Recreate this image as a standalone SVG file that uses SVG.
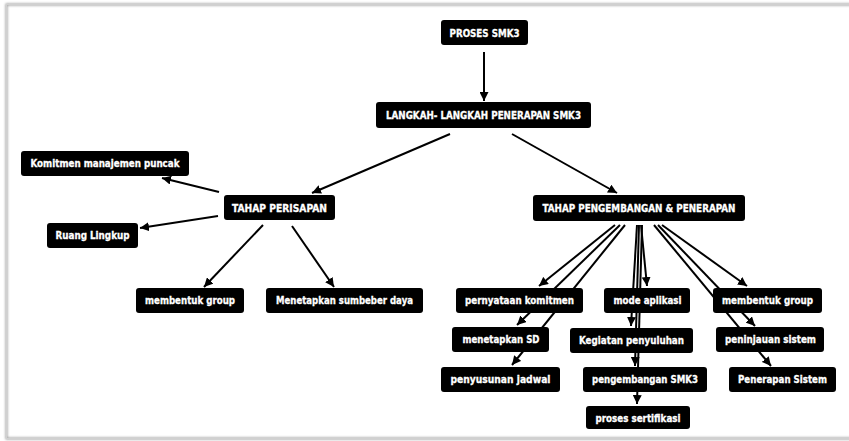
<svg xmlns="http://www.w3.org/2000/svg" width="849" height="441" viewBox="0 0 849 441">
  <defs>
    <marker id="arrow" markerUnits="userSpaceOnUse" markerWidth="10" markerHeight="9" refX="9" refY="4.5" orient="auto">
      <path d="M0,0 L9,4.5 L0,9 z" fill="#000"/>
    </marker>
    <filter id="frameShadow" x="-5%" y="-5%" width="110%" height="110%">
      <feGaussianBlur stdDeviation="1"/>
    </filter>
  </defs>
  <style>
    .box { fill: #000; }
    .lbl { fill: #fff; stroke: #fff; stroke-width: 0.3; font-family: "DejaVu Sans", Verdana, sans-serif; font-weight: bold; font-size: 9.6px; text-anchor: middle; }
    .cap { fill: #fff; stroke: #fff; stroke-width: 0.3; font-family: "DejaVu Sans Condensed", "DejaVu Sans", sans-serif; font-stretch: condensed; font-weight: bold; font-size: 11px; text-anchor: middle; }
    .conn line { stroke: #000; stroke-width: 2; marker-end: url(#arrow); }
  </style>

  <rect width="849" height="441" fill="#fff"/>
  <!-- page frame -->
  <rect x="6.5" y="4.5" width="850" height="434" fill="none" stroke="#9a9a9a" stroke-width="2" filter="url(#frameShadow)"/>
  <rect x="6.5" y="4.5" width="850" height="434" fill="none" stroke="#d0d0d0" stroke-width="1"/>

  <g id="connectors" class="conn">
    <line x1="484" y1="52" x2="484" y2="101"/>
    <line x1="450" y1="134" x2="312" y2="193"/>
    <line x1="512" y1="134" x2="617" y2="193"/>
    <line x1="219" y1="192" x2="162" y2="178"/>
    <line x1="218" y1="216" x2="140" y2="228"/>
    <line x1="263" y1="225" x2="204" y2="287"/>
    <line x1="292" y1="226" x2="334" y2="287"/>
    <line x1="615" y1="225" x2="539" y2="286"/>
    <line x1="620" y1="225" x2="517" y2="325"/>
    <line x1="625" y1="225" x2="512" y2="365"/>
    <line x1="641" y1="225" x2="647" y2="286"/>
    <line x1="637" y1="225" x2="631" y2="326"/>
    <line x1="639" y1="225" x2="635" y2="366"/>
    <line x1="642" y1="225" x2="637" y2="404"/>
    <line x1="662" y1="225" x2="747" y2="286"/>
    <line x1="658" y1="225" x2="755" y2="326"/>
    <line x1="654" y1="225" x2="771" y2="366"/>
  </g>

  <g id="proses-smk3">
    <rect class="box" x="441" y="20" width="87" height="25" rx="3"/>
    <text class="cap" x="484.5" y="36.5" textLength="70" lengthAdjust="spacingAndGlyphs">PROSES SMK3</text>
  </g>
  <g id="langkah-penerapan">
    <rect class="box" x="376" y="102" width="215" height="26" rx="3"/>
    <text class="cap" x="483.5" y="119" textLength="195" lengthAdjust="spacingAndGlyphs">LANGKAH- LANGKAH PENERAPAN SMK3</text>
  </g>
  <g id="tahap-persiapan">
    <rect class="box" x="224" y="195" width="111" height="25" rx="3"/>
    <text class="cap" x="279.5" y="211.5" textLength="95" lengthAdjust="spacingAndGlyphs">TAHAP PERISAPAN</text>
  </g>
  <g id="tahap-pengembangan">
    <rect class="box" x="533" y="195" width="212" height="26" rx="3"/>
    <text class="cap" x="639" y="212" textLength="193" lengthAdjust="spacingAndGlyphs">TAHAP PENGEMBANGAN &amp; PENERAPAN</text>
  </g>

  <g id="komitmen-manajemen">
    <rect class="box" x="21" y="151" width="168" height="25" rx="3"/>
    <text class="lbl" x="105" y="167" textLength="149" lengthAdjust="spacingAndGlyphs">Komitmen manajemen puncak</text>
  </g>
  <g id="ruang-lingkup">
    <rect class="box" x="47" y="223" width="91" height="25" rx="3"/>
    <text class="lbl" x="92.5" y="239" textLength="74" lengthAdjust="spacingAndGlyphs">Ruang Lingkup</text>
  </g>
  <g id="membentuk-group-1">
    <rect class="box" x="136" y="288" width="108" height="25" rx="3"/>
    <text class="lbl" x="190" y="304" textLength="90" lengthAdjust="spacingAndGlyphs">membentuk group</text>
  </g>
  <g id="menetapkan-sumber-daya">
    <rect class="box" x="266" y="288" width="157" height="25" rx="3"/>
    <text class="lbl" x="344.5" y="304" textLength="137" lengthAdjust="spacingAndGlyphs">Menetapkan sumbeber daya</text>
  </g>

  <g id="pernyataan-komitmen">
    <rect class="box" x="456" y="288" width="127" height="25" rx="3"/>
    <text class="lbl" x="519.5" y="304" textLength="109" lengthAdjust="spacingAndGlyphs">pernyataan komitmen</text>
  </g>
  <g id="mode-aplikasi">
    <rect class="box" x="604" y="288" width="86" height="25" rx="3"/>
    <text class="lbl" x="647.5" y="304" textLength="68" lengthAdjust="spacingAndGlyphs">mode aplikasi</text>
  </g>
  <g id="membentuk-group-2">
    <rect class="box" x="713" y="288" width="109" height="25" rx="3"/>
    <text class="lbl" x="767.5" y="304" textLength="91" lengthAdjust="spacingAndGlyphs">membentuk group</text>
  </g>

  <g id="menetapkan-sd">
    <rect class="box" x="452" y="327" width="97" height="25" rx="3"/>
    <text class="lbl" x="501" y="343" textLength="77" lengthAdjust="spacingAndGlyphs">menetapkan SD</text>
  </g>
  <g id="kegiatan-penyuluhan">
    <rect class="box" x="570" y="328" width="123" height="25" rx="3"/>
    <text class="lbl" x="631.5" y="344" textLength="105" lengthAdjust="spacingAndGlyphs">Kegiatan penyuluhan</text>
  </g>
  <g id="peninjauan-sistem">
    <rect class="box" x="716" y="327" width="108" height="25" rx="3"/>
    <text class="lbl" x="770.5" y="343" textLength="91" lengthAdjust="spacingAndGlyphs">peninjauan sistem</text>
  </g>

  <g id="penyusunan-jadwal">
    <rect class="box" x="441" y="367" width="119" height="25" rx="3"/>
    <text class="lbl" x="500.5" y="383" textLength="100" lengthAdjust="spacingAndGlyphs">penyusunan jadwal</text>
  </g>
  <g id="pengembangan-smk3">
    <rect class="box" x="583" y="367" width="124" height="25" rx="3"/>
    <text class="lbl" x="645" y="383" textLength="106" lengthAdjust="spacingAndGlyphs">pengembangan SMK3</text>
  </g>
  <g id="penerapan-sistem">
    <rect class="box" x="729" y="367" width="107" height="25" rx="3"/>
    <text class="lbl" x="782.5" y="383" textLength="89" lengthAdjust="spacingAndGlyphs">Penerapan Sistem</text>
  </g>

  <g id="proses-sertifikasi">
    <rect class="box" x="586" y="406" width="104" height="23" rx="3"/>
    <text class="lbl" x="638" y="421.5" textLength="85" lengthAdjust="spacingAndGlyphs">proses sertifikasi</text>
  </g>
</svg>
